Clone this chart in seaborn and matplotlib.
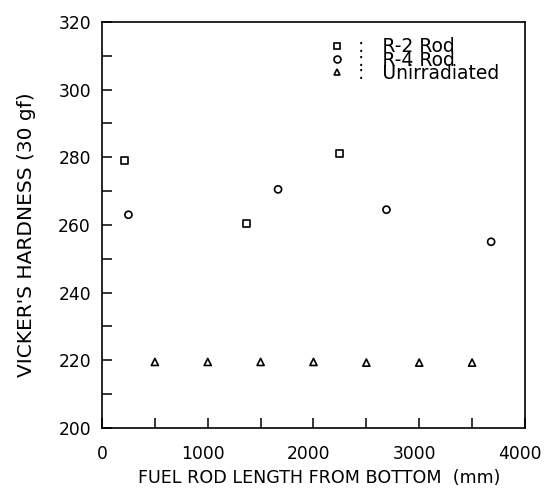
import numpy as np
import matplotlib
matplotlib.use("Agg")
import matplotlib.pyplot as plt
import matplotlib.transforms as mtransforms
import seaborn as sns
from matplotlib.lines import Line2D

# data
r2_x = [210, 1370, 2250]
r2_y = [279, 260.5, 281]
r4_x = [250, 1665, 2690, 3680]
r4_y = [263, 270.5, 264.5, 255]
unirr_x = [500, 1000, 1500, 2000, 2500, 3000, 3500]
unirr_y = [219.5, 219.5, 219.5, 219.5, 219.3, 219.3, 219.3]

series_names = ["R-2 Rod", "R-4 Rod", "Unirradiated"]
series_markers = ["s", "o", "^"]

sns.set_theme(style="white")
plt.rcParams["font.family"] = ["DejaVu Sans"]

fig = plt.figure(figsize=(5.44, 4.97), dpi=100)
ax = fig.add_axes([0.1875, 0.139, 0.7775, 0.817])

data = [(r2_x, r2_y), (r4_x, r4_y), (unirr_x, unirr_y)]
for (xs, ys), mk in zip(data, series_markers):
    sns.scatterplot(x=xs, y=ys, ax=ax, marker=mk, s=26,
                    facecolor="none", edgecolor="black", linewidth=1.2)

ax.set_xlim(0, 4000)
ax.set_ylim(200, 320)
ax.set_xticks(np.arange(0, 4001, 1000))
ax.set_xticks(np.arange(0, 4001, 500), minor=True)
ax.set_yticks(np.arange(200, 321, 20))
ax.set_yticks(np.arange(200, 321, 10), minor=True)
ax.tick_params(which="both", direction="in", length=7, width=1.1,
               bottom=True, left=True, top=False, right=False,
               labelsize=12.3, colors="black")
ax.tick_params(axis="x", pad=12)
ax.tick_params(axis="y", pad=8)
for sp in ax.spines.values():
    sp.set_color("black")
    sp.set_linewidth(1.2)

# x tick labels sit a little left of their ticks in the original
shift = mtransforms.ScaledTranslation(-5 / 100, 0, fig.dpi_scale_trans)
for lbl in ax.get_xticklabels()[1:]:
    lbl.set_transform(lbl.get_transform() + shift)

ax.set_xlabel("FUEL ROD LENGTH FROM BOTTOM  (mm)", fontsize=12.6, color="black")
ax.xaxis.set_label_coords(0.513, -0.1)
ax.set_ylabel("VICKER'S HARDNESS (30 gf)", fontsize=14.5, color="black")
ax.yaxis.set_label_coords(-0.157, 0.475)

handles = [Line2D([], [], linestyle="none", marker=mk, markersize=5,
                  markerfacecolor="none", markeredgecolor="black", markeredgewidth=1.2)
           for mk in series_markers]
leg = ax.legend(handles, [":   " + n for n in series_names], loc="upper left",
                bbox_to_anchor=(0.539, 0.962), frameon=False, fontsize=13.5,
                handlelength=0.8, handletextpad=0.7, labelspacing=-0.3,
                borderpad=0, borderaxespad=0)
for t in leg.get_texts():
    t.set_color("black")

fig.savefig("out.png", dpi=100)
